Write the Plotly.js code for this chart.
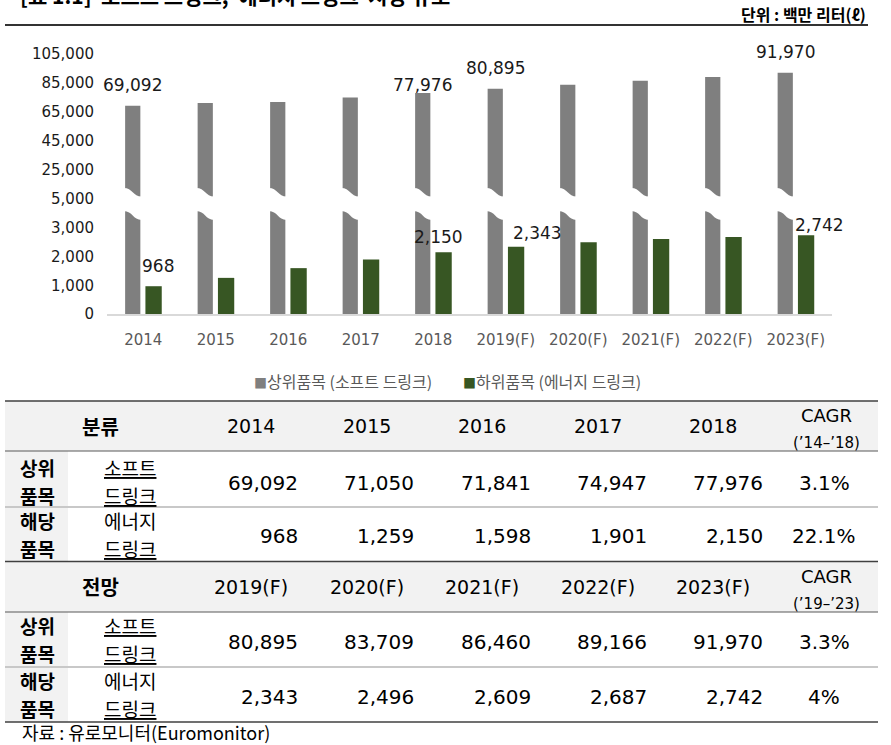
<!DOCTYPE html>
<html><head><meta charset="utf-8">
<script src="https://cdn.plot.ly/plotly-3.0.1.min.js"></script>
<style>html,body{margin:0;padding:0;background:#fff;}#chart{width:891px;height:745px;}</style>
</head><body><div id="chart"></div>
<script>
// ---------- data ----------
const years = ['2014','2015','2016','2017','2018','2019(F)','2020(F)','2021(F)','2022(F)','2023(F)'];
const softDrink = [69092,71050,71841,74947,77976,80895,83709,86460,89166,91970];
const energyDrink = [968,1259,1598,1901,2150,2343,2496,2609,2687,2742];
const seriesNames = ['상위품목 (소프트 드링크)','하위품목 (에너지 드링크)'];
const topTicks = [5000,25000,45000,65000,85000,105000];
const bottomTicks = [0,1000,2000,3000];
const labeledIdx = [0,4,5,9];
const tableHeads = ['분류','전망'];
const cagrPeriods = ['(’14–’18)','(’19–’23)'];
const cagrSoft = ['3.1%','3.3%'];
const cagrEnergy = ['22.1%','4%'];
const rowGroup = [['상위','품목'],['해당','품목']];
const rowName = [['소프트','드링크'],['에너지','드링크']];
const titleText = '[표 1.1]  소프트 드링크,  에너지 드링크  시장 규모';
const unitText = '단위 : 백만 리터(ℓ)';
const sourceText = '자료 : 유로모니터(Euromonitor)';

// ---------- layout constants ----------
const W=891,H=745;
const px=p=>p/W, py=p=>1-p/H;
const X0=107, X1=832, BAND=(X1-X0)/years.length;
const BOT_ZERO=314, BOT_TOP=211, PX_PER_K=28.7;
const TOP_BOT=199, TOP_TOP=50, REF5K=198.3, PX_PER_20K=28.85;
const botRange=[0,(BOT_ZERO-BOT_TOP)/PX_PER_K*1000];
const topRange=[5000-(TOP_BOT-REF5K)/PX_PER_20K*20000, 5000+(REF5K-TOP_TOP)/PX_PER_20K*20000];
const GRAY='#7f7f7f', GREEN='#375623';
const GRAY_OFF=-0.25, GRAY_W=0.21, GREEN_OFF=0.03, GREEN_W=0.225;
const NUM='DejaVu Sans', KR='Noto Sans CJK KR';
const fmt=v=>v.toLocaleString('en-US');

const traces=[
 {type:'bar',x:years,y:softDrink,yaxis:'y',marker:{color:GRAY},width:GRAY_W,offset:GRAY_OFF,hoverinfo:'skip',showlegend:false},
 {type:'bar',x:years,y:energyDrink,yaxis:'y',marker:{color:GREEN},width:GREEN_W,offset:GREEN_OFF,hoverinfo:'skip',showlegend:false},
 {type:'bar',x:years,y:softDrink,yaxis:'y2',marker:{color:GRAY},width:GRAY_W,offset:GRAY_OFF,hoverinfo:'skip',showlegend:false}
];

const shapes=[], annotations=[];
// axis break decorations
years.forEach((y,i)=>{
  const xc=X0+(i+0.5)*BAND;
  const L=xc+GRAY_OFF*BAND-1.5, R=xc+(GRAY_OFF+GRAY_W)*BAND+1.5, M=(L+R)/2;
  const p=(x,y)=>px(x).toFixed(5)+','+py(y).toFixed(5);
  shapes.push({type:'path',xref:'paper',yref:'paper',layer:'above',fillcolor:'#fff',line:{width:0},
    path:`M${p(L,188)} C${p(M,188)} ${p(M,196.5)} ${p(R,196.5)} L${p(R,220)} C${p(M,220)} ${p(M,211)} ${p(L,211)} Z`});
});

// data labels (x given as category index)
const grayShift=[[0,21],[0,8],[0,21],[0,21]];
const greenShift=[[4,20],[-5.5,15.5],[21,14],[13,10]];
labeledIdx.forEach((i,k)=>{
  annotations.push({xref:'x',yref:'y2',x:i,y:softDrink[i],text:fmt(softDrink[i]),showarrow:false,
    xanchor:'center',yanchor:'middle',xshift:(GRAY_OFF+GRAY_W/2)*BAND+grayShift[k][0],yshift:grayShift[k][1],
    font:{family:NUM,size:17,color:'#1a1a1a'}});
  annotations.push({xref:'x',yref:'y',x:i,y:energyDrink[i],text:fmt(energyDrink[i]),showarrow:false,
    xanchor:'center',yanchor:'middle',xshift:(GREEN_OFF+GREEN_W/2)*BAND+greenShift[k][0],yshift:greenShift[k][1],
    font:{family:NUM,size:17,color:'#1a1a1a'}});
});

// legend
[[252,GRAY],[461,GREEN]].forEach((c,k)=>{
  annotations.push({xref:'paper',yref:'paper',x:px(c[0]),y:py(381),xanchor:'left',yanchor:'middle',showarrow:false,
    text:`<span style="color:${c[1]};font-size:13px">■</span>${seriesNames[k]}`,font:{family:KR,size:16,color:'#595959'}});
});

// title, unit, top rule
annotations.push({xref:'paper',yref:'paper',x:px(18),y:py(12),xanchor:'left',yanchor:'bottom',showarrow:false,
  text:'<b>'+titleText+'</b>',font:{family:KR,size:21,color:'#000'}});
annotations.push({xref:'paper',yref:'paper',x:px(868),y:py(14),xanchor:'right',yanchor:'middle',showarrow:false,
  text:'<b>'+unitText+'</b>',font:{family:KR,size:16,color:'#000'}});
shapes.push({type:'line',xref:'paper',yref:'paper',x0:px(5),x1:px(868),y0:py(25),y1:py(25),line:{color:'#333',width:2}});

// ---------- table ----------
const TL=5, TR=878, C1=68;
const blocks=[{h:[401,451],r:[[451,507],[507,561.5]],from:0},{h:[561.5,612],r:[[612,667],[667,722]],from:5}];
const rect=(x0,x1,y0,y1,c)=>shapes.push({type:'rect',xref:'paper',yref:'paper',x0:px(x0),x1:px(x1),y0:py(y1),y1:py(y0),fillcolor:c,line:{width:0},layer:'below'});
const hline=(y,c,w)=>shapes.push({type:'line',xref:'paper',yref:'paper',x0:px(TL),x1:px(TR),y0:py(y),y1:py(y),line:{color:c,width:w}});
const txt=(x,y,t,opt)=>annotations.push(Object.assign({xref:'paper',yref:'paper',x:px(x),y:py(y),text:t,showarrow:false,xanchor:'center',yanchor:'middle'},opt));
const hdrX=i=>251+115.5*i, valR=i=>300+116.3*i, CAGRX=826;

blocks.forEach((b,bi)=>{
  rect(TL,TR,b.h[0],b.h[1],'#f2f2f2');
  rect(TL,C1,b.r[0][0],b.r[1][1],'#f2f2f2');
  hline(b.h[0],'#404040',1.5);
  hline(b.h[1],'#595959',1);
  hline(b.r[0][1],'#c8c8c8',2);
  const hc=(b.h[0]+b.h[1])/2;
  txt(100,hc,'<b>'+tableHeads[bi]+'</b>',{font:{family:KR,size:20,color:'#000'}});
  for(let i=0;i<5;i++){
    txt(hdrX(i),hc,years[b.from+i],{font:{family:NUM,size:19,color:'#000'}});
  }
  txt(CAGRX,hc-10,'CAGR',{font:{family:NUM,size:18,color:'#000'}});
  txt(CAGRX,hc+17,cagrPeriods[bi],{font:{family:NUM,size:15,color:'#000'}});
  const vals=[softDrink,energyDrink], cg=[cagrSoft,cagrEnergy];
  b.r.forEach((r,ri)=>{
    const c=(r[0]+r[1])/2 + (bi===0&&ri===0?2:0);
    const lf={family:KR,size:19,color:'#000'};
    txt(37,c-14,'<b>'+rowGroup[ri][0]+'</b>',{font:lf,borderpad:0});
    txt(37,c+14,'<b>'+rowGroup[ri][1]+'</b>',{font:lf,borderpad:0});
    txt(130,c-14,ri===0?'<u>'+rowName[ri][0]+'</u>':rowName[ri][0],{font:lf,borderpad:0});
    txt(130,c+14,'<u>'+rowName[ri][1]+'</u>',{font:lf,borderpad:0});
    for(let i=0;i<5;i++){
      txt(valR(i),c+2,fmt(vals[ri][b.from+i]),{xanchor:'right',font:{family:NUM,size:20,color:'#000'}});
    }
    txt(CAGRX-2,c+2,cg[ri][bi],{font:{family:NUM,size:20,color:'#000'}});
  });
});
hline(722,'#404040',1.5);
txt(21,732,sourceText,{xanchor:'left',font:{family:KR,size:18,color:'#000'},borderpad:0});

const layout={
  width:W,height:H,margin:{l:0,r:0,t:0,b:0},paper_bgcolor:'#fff',plot_bgcolor:'rgba(0,0,0,0)',
  barmode:'overlay',showlegend:false,
  xaxis:{domain:[px(X0),px(X1)],type:'category',range:[-0.5,years.length-0.5],anchor:'y',showline:true,linecolor:'#d9d9d9',linewidth:1.5,
    ticks:'',showgrid:false,zeroline:false,ticklabelstandoff:11,tickfont:{family:NUM,size:15,color:'#595959'},fixedrange:true},
  yaxis:{domain:[py(BOT_ZERO),py(BOT_TOP)],range:botRange,tickvals:bottomTicks,tickformat:',d',showgrid:false,zeroline:false,
    showline:false,ticks:'',ticklabelstandoff:12,tickfont:{family:NUM,size:15,color:'#1a1a1a'},fixedrange:true},
  yaxis2:{domain:[py(TOP_BOT),py(TOP_TOP)],range:topRange,tickvals:topTicks,tickformat:',d',anchor:'x',showgrid:false,zeroline:false,
    showline:false,ticks:'',ticklabelstandoff:12,tickfont:{family:NUM,size:15,color:'#1a1a1a'},fixedrange:true},
  shapes:shapes,annotations:annotations
};
Plotly.newPlot('chart',traces,layout,{staticPlot:true,displayModeBar:false});
</script></body></html>
